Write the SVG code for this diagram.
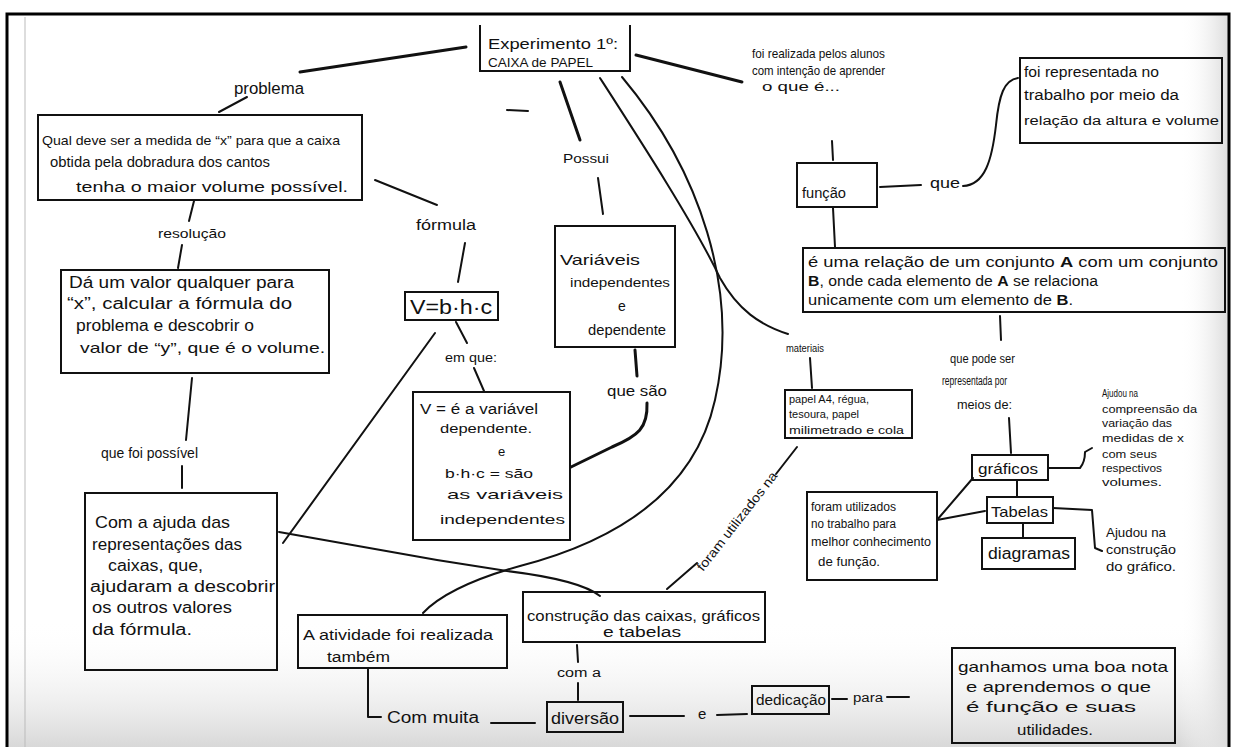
<svg xmlns="http://www.w3.org/2000/svg" width="1235" height="747" viewBox="0 0 1235 747">
<style>
.bx{fill:none;stroke:#111;stroke-width:2}
.ln{fill:none;stroke:#111;stroke-width:2;stroke-linecap:round;stroke-linejoin:round}
.th{stroke-width:3}
text{font-family:"Liberation Sans",Arial,sans-serif;fill:#111}
</style>
<defs>
<linearGradient id="paperB" x1="0" y1="0" x2="0" y2="1">
<stop offset="0" stop-color="#ffffff" stop-opacity="0"/>
<stop offset="1" stop-color="#d8d8d8" stop-opacity="1"/>
</linearGradient>
<linearGradient id="paperR" x1="0" y1="0" x2="1" y2="0">
<stop offset="0" stop-color="#ffffff" stop-opacity="0"/>
<stop offset="1" stop-color="#dcdcdc" stop-opacity="1"/>
</linearGradient>
</defs>
<rect x="0" y="0" width="1235" height="747" fill="#fff"/>
<rect x="8" y="620" width="1220" height="127" fill="url(#paperB)"/>
<rect x="1180" y="15" width="48" height="732" fill="url(#paperR)"/>
<path d="M7,747 L7,14 L1229,14 L1229,747" fill="none" stroke="#000" stroke-width="3"/>
<line x1="25" y1="17" x2="25" y2="747" stroke="#bbb" stroke-width="1"/>

<g id="connectors">
<path class="ln th" d="M466,47 L300,72"/>
<path class="ln" d="M247,97 L219,112"/>
<path class="ln" d="M194,201 L189,221"/>
<path class="ln" d="M182,245 L178,268"/>
<path class="ln" d="M375,180 L437,205"/>
<path class="ln" d="M465,243 L458,282"/>
<path class="ln" d="M456,322 L467,343"/>
<path class="ln" d="M474,368 L484,391"/>
<path class="ln th" d="M560,82 L580,140"/>
<path class="ln" d="M598,178 L603,214"/>
<path class="ln th" d="M635,350 L637,376"/>
<path class="ln th" d="M647,403 C648,428 638,436 612,447 L571,467"/>
<path class="ln" d="M192,378 L186,440"/>
<path class="ln" d="M182,466 L182,488"/>
<path class="ln" d="M435,333 L283,543"/>
<path class="ln" d="M279,532 L437,560 L507,571 Q580,580 600,596"/>
<path class="ln" d="M622,77 C700,170 740,290 715,400 C695,490 620,540 520,566 C470,580 440,595 423,613"/>
<path class="ln" d="M600,78 C640,140 695,225 720,278 C738,310 760,325 788,334"/>
<path class="ln th" d="M636,55 L742,82"/>
<path class="ln" d="M832,141 L833,160"/>
<path class="ln" d="M880,187 L921,185"/>
<path class="ln" d="M963,186 C985,185 992,160 996,125 C999,95 1004,80 1018,78"/>
<path class="ln" d="M833,208 L835,247"/>
<path class="ln" d="M1000,316 L1001,340"/>
<path class="ln" d="M810,358 L812,388"/>
<path class="ln" d="M797,447 L776,474"/>
<path class="ln" d="M697,563 L667,589"/>
<path class="ln" d="M1009,418 L1011,453"/>
<path class="ln" d="M1048,468 L1080,468 Q1085,462 1085,452 L1092,448"/>
<path class="ln" d="M1017,480 L1017,497"/>
<path class="ln" d="M1023,523 L1023,538"/>
<path class="ln" d="M1053,508 L1092,510 L1095,548 L1102,551"/>
<path class="ln" d="M937,520 L973,478"/>
<path class="ln" d="M937,520 L985,511"/>
<path class="ln" d="M577,645 L578,662"/>
<path class="ln" d="M578,683 L578,700"/>
<path class="ln" d="M368,668 L368,717 L381,717"/>
<path class="ln" d="M491,723 L535,723"/>
<path class="ln" d="M630,716 L684,716"/>
<path class="ln" d="M717,715 L747,714"/>
<path class="ln" d="M832,699 L847,699"/>
<path class="ln" d="M887,697 L909,697"/>
<path class="ln" d="M507,110 L528,111" stroke-width="1"/>
</g>

<g id="n-experimento">
<path class="bx" d="M480,25 L480,71 L630,71 L630,25"/>
<text x="488" y="49" font-size="15" textLength="130" lengthAdjust="spacingAndGlyphs">Experimento 1º:</text>
<text x="488" y="67" font-size="13" textLength="105" lengthAdjust="spacingAndGlyphs">CAIXA de PAPEL</text>
</g>
<g id="l-problema"><text x="234" y="94" font-size="16" textLength="70" lengthAdjust="spacingAndGlyphs">problema</text></g>
<g id="n-qual">
<rect class="bx" x="38" y="115" width="324" height="85"/>
<text x="42" y="145" font-size="13" textLength="298" lengthAdjust="spacingAndGlyphs">Qual deve ser a medida de “x” para que a caixa</text>
<text x="50" y="167" font-size="14" textLength="220" lengthAdjust="spacingAndGlyphs">obtida pela dobradura dos cantos</text>
<text x="76" y="192" font-size="14" textLength="272" lengthAdjust="spacingAndGlyphs">tenha o maior volume possível.</text>
</g>
<g id="l-resolucao"><text x="158" y="238" font-size="13" textLength="68" lengthAdjust="spacingAndGlyphs">resolução</text></g>
<g id="l-formula"><text x="416" y="230" font-size="14" textLength="60" lengthAdjust="spacingAndGlyphs">fórmula</text></g>
<g id="n-da-um-valor">
<rect class="bx" x="61" y="270" width="268" height="103"/>
<text x="69" y="288" font-size="16" textLength="225" lengthAdjust="spacingAndGlyphs">Dá um valor qualquer para</text>
<text x="67" y="309" font-size="16" textLength="225" lengthAdjust="spacingAndGlyphs">“x”, calcular a fórmula do</text>
<text x="76" y="331" font-size="16" textLength="178" lengthAdjust="spacingAndGlyphs">problema e descobrir o</text>
<text x="80" y="353" font-size="15" textLength="245" lengthAdjust="spacingAndGlyphs">valor de “y”, que é o volume.</text>
</g>
<g id="l-que-foi-possivel"><text x="101" y="458" font-size="14" textLength="97" lengthAdjust="spacingAndGlyphs">que foi possível</text></g>
<g id="n-com-a-ajuda">
<rect class="bx" x="85" y="493" width="192" height="177"/>
<text x="95" y="528" font-size="17" textLength="135" lengthAdjust="spacingAndGlyphs">Com a ajuda das</text>
<text x="92" y="550" font-size="16" textLength="150" lengthAdjust="spacingAndGlyphs">representações das</text>
<text x="108" y="571" font-size="16" textLength="95" lengthAdjust="spacingAndGlyphs">caixas, que,</text>
<text x="90" y="592" font-size="16" textLength="185" lengthAdjust="spacingAndGlyphs">ajudaram a descobrir</text>
<text x="92" y="613" font-size="16" textLength="140" lengthAdjust="spacingAndGlyphs">os outros valores</text>
<text x="92" y="635" font-size="16" textLength="100" lengthAdjust="spacingAndGlyphs">da fórmula.</text>
</g>
<g id="n-formula-v">
<rect class="bx" x="405" y="292" width="93" height="28"/>
<text x="410" y="314" font-size="20" textLength="82" lengthAdjust="spacingAndGlyphs">V=b·h·c</text>
</g>
<g id="l-em-que"><text x="445" y="362" font-size="12" textLength="52" lengthAdjust="spacingAndGlyphs">em que:</text></g>
<g id="n-v-dependente">
<rect class="bx" x="413" y="392" width="157" height="148"/>
<text x="420" y="414" font-size="14" textLength="118" lengthAdjust="spacingAndGlyphs">V = é a variável</text>
<text x="440" y="433" font-size="13" textLength="92" lengthAdjust="spacingAndGlyphs">dependente.</text>
<text x="498" y="456" font-size="13">e</text>
<text x="445" y="478" font-size="13" textLength="88" lengthAdjust="spacingAndGlyphs">b·h·c = são</text>
<text x="447" y="499" font-size="13" textLength="116" lengthAdjust="spacingAndGlyphs">as variáveis</text>
<text x="440" y="524" font-size="13" textLength="125" lengthAdjust="spacingAndGlyphs">independentes</text>
</g>
<g id="l-possui"><text x="563" y="163" font-size="13" textLength="46" lengthAdjust="spacingAndGlyphs">Possui</text></g>
<g id="n-variaveis">
<rect class="bx" x="555" y="226" width="120" height="121"/>
<text x="560" y="265" font-size="15" textLength="80" lengthAdjust="spacingAndGlyphs">Variáveis</text>
<text x="570" y="287" font-size="13" textLength="100" lengthAdjust="spacingAndGlyphs">independentes</text>
<text x="618" y="311" font-size="14">e</text>
<text x="588" y="335" font-size="14" textLength="78" lengthAdjust="spacingAndGlyphs">dependente</text>
</g>
<g id="l-que-sao"><text x="607" y="396" font-size="15" textLength="60" lengthAdjust="spacingAndGlyphs">que são</text></g>
<g id="l-foi-realizada">
<text x="752" y="58" font-size="13" textLength="133" lengthAdjust="spacingAndGlyphs">foi realizada pelos alunos</text>
<text x="752" y="75" font-size="13" textLength="133" lengthAdjust="spacingAndGlyphs">com intenção de aprender</text>
<text x="762" y="91" font-size="13" textLength="78" lengthAdjust="spacingAndGlyphs">o que é...</text>
</g>
<g id="n-funcao">
<rect class="bx" x="797" y="163" width="80" height="44"/>
<text x="802" y="198" font-size="14" textLength="44" lengthAdjust="spacingAndGlyphs">função</text>
</g>
<g id="l-que"><text x="930" y="188" font-size="14" textLength="30" lengthAdjust="spacingAndGlyphs">que</text></g>
<g id="n-representada">
<rect class="bx" x="1020" y="58" width="202" height="85"/>
<text x="1024" y="77" font-size="14" textLength="135" lengthAdjust="spacingAndGlyphs">foi representada no</text>
<text x="1024" y="100" font-size="14" textLength="155" lengthAdjust="spacingAndGlyphs">trabalho por meio da</text>
<text x="1024" y="125" font-size="12" textLength="195" lengthAdjust="spacingAndGlyphs">relação da altura e volume</text>
</g>
<g id="n-relacao">
<rect class="bx" x="803" y="248" width="422" height="64"/>
<text x="808" y="267" font-size="14" textLength="410" lengthAdjust="spacingAndGlyphs">é uma relação de um conjunto <tspan font-weight="bold">A</tspan> com um conjunto</text>
<text x="808" y="286" font-size="14" textLength="290" lengthAdjust="spacingAndGlyphs"><tspan font-weight="bold">B</tspan>, onde cada elemento de <tspan font-weight="bold">A</tspan> se relaciona</text>
<text x="808" y="305" font-size="14" textLength="265" lengthAdjust="spacingAndGlyphs">unicamente com um elemento de <tspan font-weight="bold">B</tspan>.</text>
</g>
<g id="l-materiais"><text x="786" y="352" font-size="10" textLength="38" lengthAdjust="spacingAndGlyphs">materiais</text></g>
<g id="n-papel">
<rect class="bx" x="785" y="390" width="127" height="48"/>
<text x="789" y="403" font-size="11" textLength="80" lengthAdjust="spacingAndGlyphs">papel A4, régua,</text>
<text x="789" y="418" font-size="11" textLength="70" lengthAdjust="spacingAndGlyphs">tesoura, papel</text>
<text x="789" y="434" font-size="11" textLength="115" lengthAdjust="spacingAndGlyphs">milimetrado e cola</text>
</g>
<g id="l-foram-utilizados-na"><text x="703" y="572" font-size="13" transform="rotate(-52 703 572)" textLength="122" lengthAdjust="spacingAndGlyphs">foram utilizados na</text></g>
<g id="l-que-pode-ser">
<text x="950" y="363" font-size="12" textLength="65" lengthAdjust="spacingAndGlyphs">que pode ser</text>
<text x="942" y="385" font-size="12" textLength="65" lengthAdjust="spacingAndGlyphs">representada por</text>
<text x="957" y="409" font-size="13" textLength="55" lengthAdjust="spacingAndGlyphs">meios de:</text>
</g>
<g id="n-graficos">
<rect class="bx" x="972" y="455" width="76" height="25"/>
<text x="978" y="474" font-size="15" textLength="60" lengthAdjust="spacingAndGlyphs">gráficos</text>
</g>
<g id="l-ajudou-1">
<text x="1102" y="397" font-size="11" textLength="36" lengthAdjust="spacingAndGlyphs">Ajudou na</text>
<text x="1102" y="413" font-size="11" textLength="95" lengthAdjust="spacingAndGlyphs">compreensão da</text>
<text x="1102" y="427" font-size="11" textLength="70" lengthAdjust="spacingAndGlyphs">variação das</text>
<text x="1102" y="442" font-size="11" textLength="82" lengthAdjust="spacingAndGlyphs">medidas de x</text>
<text x="1102" y="458" font-size="11" textLength="55" lengthAdjust="spacingAndGlyphs">com seus</text>
<text x="1102" y="472" font-size="11" textLength="60" lengthAdjust="spacingAndGlyphs">respectivos</text>
<text x="1102" y="486" font-size="11" textLength="60" lengthAdjust="spacingAndGlyphs">volumes.</text>
</g>
<g id="n-tabelas">
<rect class="bx" x="987" y="497" width="66" height="26"/>
<text x="991" y="517" font-size="15" textLength="57" lengthAdjust="spacingAndGlyphs">Tabelas</text>
</g>
<g id="n-diagramas">
<rect class="bx" x="982" y="538" width="93" height="31"/>
<text x="988" y="559" font-size="16" textLength="82" lengthAdjust="spacingAndGlyphs">diagramas</text>
</g>
<g id="l-ajudou-2">
<text x="1106" y="537" font-size="12" textLength="60" lengthAdjust="spacingAndGlyphs">Ajudou na</text>
<text x="1106" y="554" font-size="12" textLength="70" lengthAdjust="spacingAndGlyphs">construção</text>
<text x="1106" y="571" font-size="12" textLength="70" lengthAdjust="spacingAndGlyphs">do gráfico.</text>
</g>
<g id="n-foram-utilizados">
<rect class="bx" x="807" y="492" width="130" height="88"/>
<text x="811" y="511" font-size="12" textLength="85" lengthAdjust="spacingAndGlyphs">foram utilizados</text>
<text x="811" y="528" font-size="12" textLength="85" lengthAdjust="spacingAndGlyphs">no trabalho para</text>
<text x="811" y="546" font-size="12" textLength="120" lengthAdjust="spacingAndGlyphs">melhor conhecimento</text>
<text x="818" y="566" font-size="12" textLength="62" lengthAdjust="spacingAndGlyphs">de função.</text>
</g>
<g id="n-construcao">
<rect class="bx" x="523" y="592" width="242" height="50"/>
<text x="527" y="621" font-size="14" textLength="233" lengthAdjust="spacingAndGlyphs">construção das caixas, gráficos</text>
<text x="603" y="637" font-size="14" textLength="78" lengthAdjust="spacingAndGlyphs">e tabelas</text>
</g>
<g id="l-com-a"><text x="557" y="677" font-size="12" textLength="44" lengthAdjust="spacingAndGlyphs">com a</text></g>
<g id="n-atividade">
<rect class="bx" x="298" y="615" width="209" height="53"/>
<text x="303" y="640" font-size="15" textLength="190" lengthAdjust="spacingAndGlyphs">A atividade foi realizada</text>
<text x="327" y="662" font-size="14" textLength="63" lengthAdjust="spacingAndGlyphs">também</text>
</g>
<g id="l-com-muita"><text x="387" y="723" font-size="16" textLength="92" lengthAdjust="spacingAndGlyphs">Com muita</text></g>
<g id="n-diversao">
<rect class="bx" x="547" y="702" width="76" height="30" fill="#fff"/>
<text x="551" y="724" font-size="16" textLength="68" lengthAdjust="spacingAndGlyphs">diversão</text>
</g>
<g id="l-e"><text x="698" y="719" font-size="15">e</text></g>
<g id="n-dedicacao">
<rect class="bx" x="752" y="686" width="77" height="28"/>
<text x="756" y="705" font-size="14" textLength="70" lengthAdjust="spacingAndGlyphs">dedicação</text>
</g>
<g id="l-para"><text x="853" y="702" font-size="12" textLength="30" lengthAdjust="spacingAndGlyphs">para</text></g>
<g id="n-ganhamos">
<rect class="bx" x="952" y="648" width="223" height="95"/>
<text x="958" y="672" font-size="15" textLength="210" lengthAdjust="spacingAndGlyphs">ganhamos uma boa nota</text>
<text x="966" y="692" font-size="15" textLength="185" lengthAdjust="spacingAndGlyphs">e aprendemos o que</text>
<text x="966" y="712" font-size="15" textLength="170" lengthAdjust="spacingAndGlyphs">é função e suas</text>
<text x="1017" y="735" font-size="15" textLength="76" lengthAdjust="spacingAndGlyphs">utilidades.</text>
</g>
</svg>
